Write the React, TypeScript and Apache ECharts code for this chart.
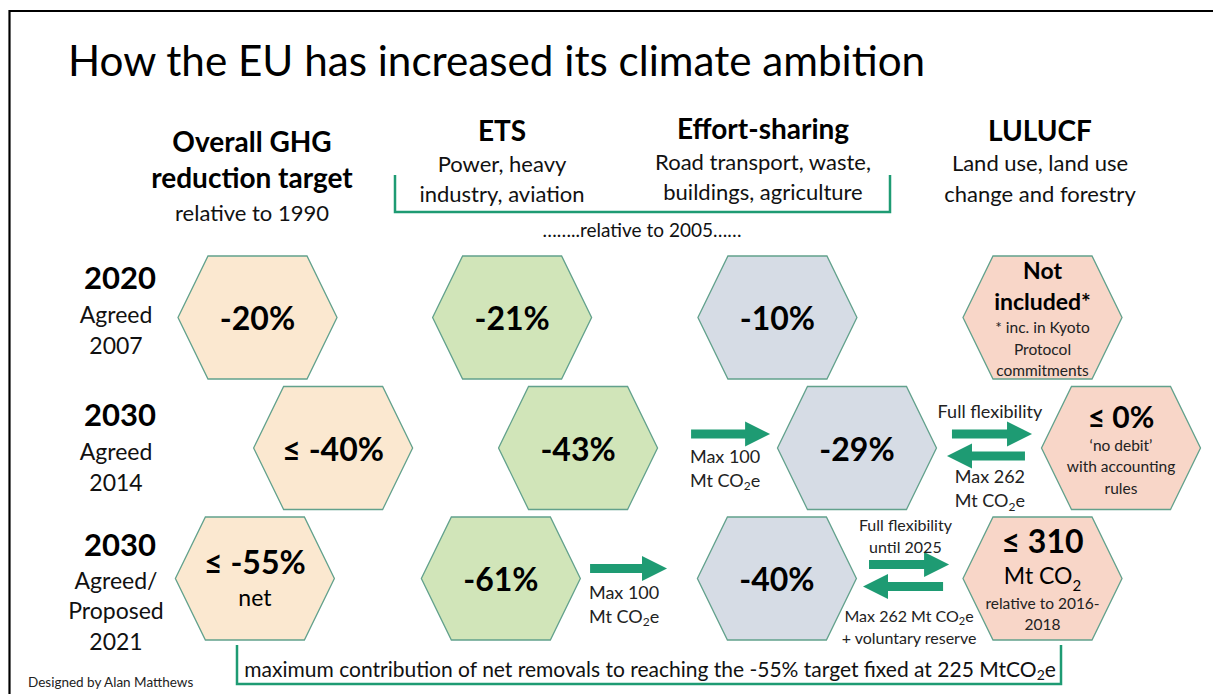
import React, { useEffect, useRef } from "react";
import * as echarts from "echarts";

const FONT = "Lato, 'Open Sans', sans-serif";

// ---------- texts ----------
const titleText = "How the EU has increased its climate ambition";
const columnTitles = ["Overall GHG\nreduction target", "ETS", "Effort-sharing", "LULUCF"];
const columnSubtitles = [
  "relative to 1990",
  "Power, heavy\nindustry, aviation",
  "Road transport, waste,\nbuildings, agriculture",
  "Land use, land use\nchange and forestry",
];
const sharedBaseNote = "……..relative to 2005……";
const rowYears = ["2020", "2030", "2030"];
const rowStatus = ["Agreed\n2007", "Agreed\n2014", "Agreed/\nProposed\n2021"];
const bottomNote = "maximum contribution of net removals to reaching the -55% target fixed at 225 MtCO{s|2}e";
const credit = "Designed by Alan Matthews";

// ---------- hexagon targets (column position, row, sector, label) ----------
const hexCol = [0, 0.973, 1.987, 3.0, 0.289, 1.225, 2.291, 3.3, -0.01, 0.93, 1.985, 3.0];
const hexRow = [0, 0, 0, 0, 1, 1, 1, 1, 2, 2, 2, 2];
const hexSector = [0, 1, 2, 3, 0, 1, 2, 3, 0, 1, 2, 3];
const hexLabels = [
  "{big|-20%}",
  "{big|-21%}",
  "{big|-10%}",
  "{mid|Not}\n{mid|included*}\n{note|* inc. in Kyoto}\n{note|Protocol}\n{note|commitments}",
  "{big|≤ -40%}",
  "{big|-43%}",
  "{big|-29%}",
  "{big2|≤ 0%}\n{note|‘no debit’}\n{note|with accounting}\n{note|rules}",
  "{big|≤ -55%}\n{unit|net}",
  "{big|-61%}",
  "{big|-40%}",
  "{big|≤ 310}\n{unit|Mt CO}{usub|2}\n{note|relative to 2016-}\n{note|2018}",
];

// ---------- flexibility arrows (tail column, tip column, row level) ----------
const arrowTail = [1.657, 2.654, 2.933, 1.271, 2.337, 2.62];
const arrowTip = [1.959, 2.96, 2.635, 1.565, 2.643, 2.314];
const arrowLevel = [0.893, 0.893, 1.061, 1.923, 1.893, 2.061];

// ---------- flexibility labels (column, row level, text) ----------
const flowCol = [1.787, 2.799, 2.799, 1.401, 2.476, 2.49];
const flowLevel = [1.153, 0.716, 1.31, 2.195, 1.674, 2.364];
const flowLabels = [
  "{a|Max 100}\n{a|Mt CO}{as|2}{a|e}",
  "{a|Full flexibility}",
  "{a|Max 262}\n{a|Mt CO}{as|2}{a|e}",
  "{a|Max 100}\n{a|Mt CO}{as|2}{a|e}",
  "{b|Full flexibility}\n{b|until 2025}",
  "{b|Max 262 Mt CO}{bs|2}{b|e}\n{b|+ voluntary reserve}",
];

// ---------- styles ----------
const sectorFill = ["#fbe8d0", "#d1e5b9", "#d6dce5", "#f8d6c8"];
const hexStroke = "#62a18c";
const teal = "#1e9b73";

const hexRich: any = {
  big: { fontFamily: FONT, fontSize: 32, fontWeight: "bold", lineHeight: 36, fill: "#000" },
  big2: { fontFamily: FONT, fontSize: 30, fontWeight: "bold", lineHeight: 36, fill: "#000" },
  mid: { fontFamily: FONT, fontSize: 23, fontWeight: "bold", lineHeight: 31, fill: "#000" },
  unit: { fontFamily: FONT, fontSize: 23, lineHeight: 34, fill: "#000" },
  usub: { fontFamily: FONT, fontSize: 15, lineHeight: 22, verticalAlign: "bottom", fill: "#000" },
  note: { fontFamily: FONT, fontSize: 15.5, lineHeight: 21.5, fill: "#222" },
};
const flowRich: any = {
  a: { fontFamily: FONT, fontSize: 18, lineHeight: 24, fill: "#222" },
  as: { fontFamily: FONT, fontSize: 12, lineHeight: 16, verticalAlign: "bottom", fill: "#222" },
  b: { fontFamily: FONT, fontSize: 16, lineHeight: 22, fill: "#222" },
  bs: { fontFamily: FONT, fontSize: 11, lineHeight: 15, verticalAlign: "bottom", fill: "#222" },
};

function txt(text: string, x: number, y: number, size: number, bold = false, align = "center", lh?: number, fill = "#111"): any {
  return {
    type: "text",
    x,
    y,
    silent: true,
    style: {
      text,
      fontFamily: FONT,
      fontSize: size,
      fontWeight: bold ? "bold" : "normal",
      lineHeight: lh ?? Math.round(size * 1.3),
      fill,
      align,
      verticalAlign: "middle",
    },
  };
}

export default function App() {
  const ref = useRef<HTMLDivElement>(null);

  useEffect(() => {
    document.body.style.margin = "0";
    if (!ref.current) return;
    const chart = echarts.init(ref.current, null, { renderer: "svg" });

    const headerX = [252, 502, 763, 1040];
    const headerGraphics: any[] = [];
    headerGraphics.push(txt(columnTitles[0], headerX[0], 159, 28, true, "center", 36, "#000"));
    headerGraphics.push(txt(columnSubtitles[0], headerX[0], 212, 22, false, "center", 30));
    headerGraphics.push(txt(columnTitles[1], headerX[1], 130, 28, true, "center", 34, "#000"));
    headerGraphics.push(txt(columnSubtitles[1], headerX[1], 178, 22, false, "center", 30));
    headerGraphics.push(txt(columnTitles[2], headerX[2], 128, 28, true, "center", 34, "#000"));
    headerGraphics.push(txt(columnSubtitles[2], headerX[2], 176, 22, false, "center", 30));
    headerGraphics.push(txt(columnTitles[3], headerX[3], 130, 28, true, "center", 34, "#000"));
    headerGraphics.push(txt(columnSubtitles[3], headerX[3], 178, 22, false, "center", 31));
    headerGraphics.push(txt(sharedBaseNote, 642, 229, 19, false, "center", 22));

    const yearY = [277, 414, 544];
    const statusY = [329.5, 466.5, 610];
    rowYears.forEach((y, i) => {
      headerGraphics.push(txt(y, 120, yearY[i], 31, true, "center", 36, "#000"));
      headerGraphics.push(txt(rowStatus[i], 116, statusY[i], 23, false, "center", 30.5));
    });

    const option: any = {
      animation: false,
      backgroundColor: "#ffffff",
      grid: { left: 257.5, top: 317.5, width: 785, height: 261, show: false },
      xAxis: { type: "value", min: 0, max: 3, show: false },
      yAxis: { type: "value", min: 0, max: 2, inverse: true, show: false },
      graphic: [
        // frame
        { type: "line", silent: true, shape: { x1: 9.5, y1: 11, x2: 1213, y2: 11 }, style: { stroke: "#000", lineWidth: 2.2 } },
        { type: "line", silent: true, shape: { x1: 9.5, y1: 10, x2: 9.5, y2: 694 }, style: { stroke: "#000", lineWidth: 2.2 } },
        // title
        txt(titleText, 68, 59, 42.2, false, "left", 50, "#000"),
        ...headerGraphics,
        // brackets
        {
          type: "polyline",
          silent: true,
          shape: { points: [[395, 175], [395, 212], [890, 212], [890, 175]] },
          style: { stroke: teal, lineWidth: 2.5, fill: "none" },
        },
        {
          type: "polyline",
          silent: true,
          shape: { points: [[237, 645], [237, 684], [1061, 684], [1061, 645]] },
          style: { stroke: teal, lineWidth: 2.5, fill: "none" },
        },
        {
          type: "text",
          x: 650,
          y: 668,
          silent: true,
          style: {
            text: bottomNote,
            fontFamily: FONT,
            fontSize: 21,
            fill: "#111",
            align: "center",
            verticalAlign: "middle",
            rich: {
              s: { fontFamily: FONT, fontSize: 14, lineHeight: 18, verticalAlign: "bottom", fill: "#111" },
            },
            lineHeight: 26,
          },
        },
        txt(credit, 28, 682, 13.5, false, "left", 18, "#222"),
      ],
      series: [
        {
          type: "custom",
          name: "targets",
          coordinateSystem: "cartesian2d",
          silent: true,
          data: hexCol.map((c, i) => [c, hexRow[i], i]),
          renderItem: (params: any, api: any) => {
            const p = api.coord([api.value(0), api.value(1)]);
            const i = api.value(2);
            const hw = 79.5;
            const fw = 49.5;
            const hh = 61.5;
            const [cx, cy] = p;
            return {
              type: "group",
              children: [
                {
                  type: "polygon",
                  shape: {
                    points: [
                      [cx - hw, cy],
                      [cx - fw, cy - hh],
                      [cx + fw, cy - hh],
                      [cx + hw, cy],
                      [cx + fw, cy + hh],
                      [cx - fw, cy + hh],
                    ],
                  },
                  style: { fill: sectorFill[hexSector[i]], stroke: hexStroke, lineWidth: 1.3 },
                },
                {
                  type: "text",
                  x: cx,
                  y: cy,
                  style: {
                    text: hexLabels[i],
                    rich: hexRich,
                    fontFamily: FONT,
                    align: "center",
                    verticalAlign: "middle",
                    fill: "#000",
                  },
                },
              ],
            };
          },
        },
        {
          type: "custom",
          name: "transfers",
          coordinateSystem: "cartesian2d",
          silent: true,
          data: arrowTail.map((t, i) => [t, arrowTip[i], arrowLevel[i]]),
          renderItem: (params: any, api: any) => {
            const a = api.coord([api.value(0), api.value(2)]);
            const b = api.coord([api.value(1), api.value(2)]);
            const dir = b[0] >= a[0] ? 1 : -1;
            const y = a[1];
            const sh = 4.5;
            const hh = 12.5;
            const hl = 25;
            const hx = b[0] - dir * hl;
            return {
              type: "polygon",
              shape: {
                points: [
                  [a[0], y - sh],
                  [hx, y - sh],
                  [hx, y - hh],
                  [b[0], y],
                  [hx, y + hh],
                  [hx, y + sh],
                  [a[0], y + sh],
                ],
              },
              style: { fill: teal, stroke: "none" },
            };
          },
        },
        {
          type: "custom",
          name: "transferLabels",
          coordinateSystem: "cartesian2d",
          silent: true,
          data: flowCol.map((c, i) => [c, flowLevel[i], i]),
          renderItem: (params: any, api: any) => {
            const p = api.coord([api.value(0), api.value(1)]);
            const i = api.value(2);
            return {
              type: "text",
              x: p[0],
              y: p[1],
              style: {
                text: flowLabels[i],
                rich: flowRich,
                fontFamily: FONT,
                align: "center",
                verticalAlign: "middle",
                fill: "#222",
              },
            };
          },
        },
      ],
    };

    chart.setOption(option);
    return () => chart.dispose();
  }, []);

  return <div ref={ref} style={{ width: 1213, height: 694 }} />;
}
